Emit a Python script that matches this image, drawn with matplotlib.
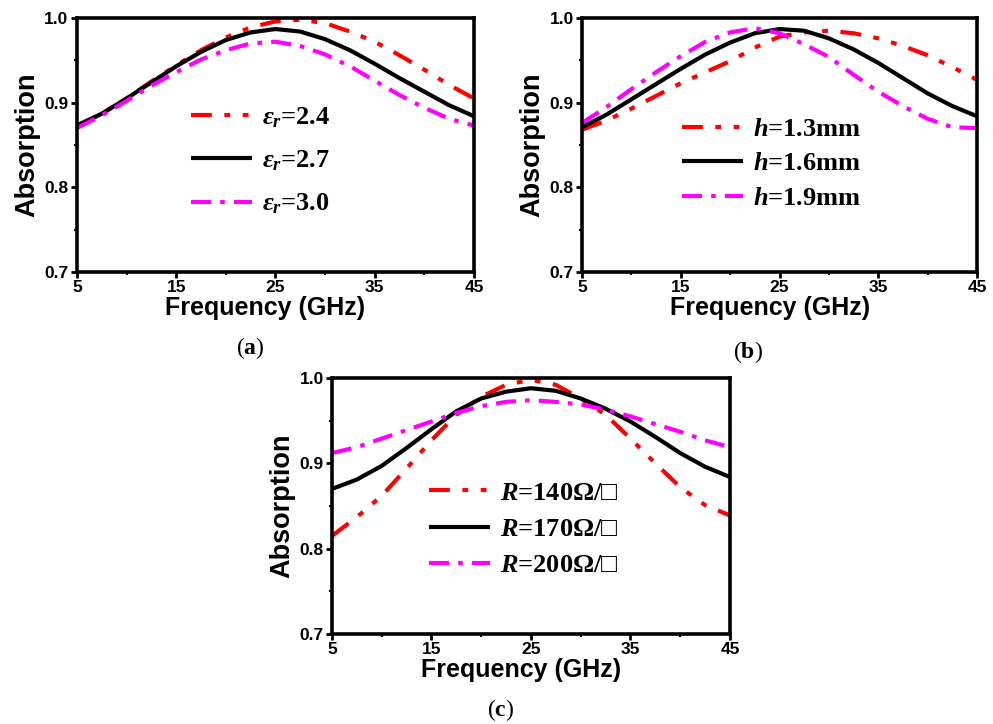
import matplotlib
matplotlib.use("Agg")
import matplotlib.pyplot as plt
from matplotlib.ticker import MultipleLocator

plt.rcParams["mathtext.fontset"] = "custom"
plt.rcParams["mathtext.rm"] = "Liberation Serif:bold"
plt.rcParams["mathtext.it"] = "Liberation Serif:italic:bold"
plt.rcParams["mathtext.bf"] = "Liberation Serif:bold"

freq = [5, 7.5, 10, 12.5, 15, 17.5, 20, 22.5, 25, 27.5, 30, 32.5, 35, 37.5, 40, 42.5, 45]

# (a) permittivity
eps_24 = [0.873, 0.887, 0.905, 0.925, 0.944, 0.962, 0.977, 0.989, 0.996, 0.998, 0.994,
          0.984, 0.972, 0.956, 0.939, 0.921, 0.905]
eps_27 = [0.873, 0.887, 0.905, 0.924, 0.943, 0.960, 0.974, 0.983, 0.987, 0.984, 0.975,
          0.962, 0.946, 0.929, 0.913, 0.897, 0.884]
eps_30 = [0.870, 0.885, 0.902, 0.920, 0.936, 0.951, 0.962, 0.970, 0.972, 0.967, 0.957,
          0.943, 0.926, 0.909, 0.894, 0.881, 0.873]

# (b) thickness
h_13 = [0.868, 0.879, 0.893, 0.908, 0.923, 0.936, 0.949, 0.965, 0.978, 0.983, 0.985,
        0.982, 0.976, 0.967, 0.956, 0.942, 0.927]
h_16 = [0.871, 0.886, 0.904, 0.922, 0.940, 0.957, 0.971, 0.982, 0.987, 0.985, 0.976,
        0.963, 0.947, 0.929, 0.911, 0.896, 0.884]
h_19 = [0.876, 0.895, 0.916, 0.936, 0.955, 0.972, 0.983, 0.988, 0.982, 0.969, 0.954,
        0.933, 0.913, 0.896, 0.881, 0.871, 0.870]

# (c) sheet resistance
r_140 = [0.815, 0.837, 0.862, 0.894, 0.927, 0.957, 0.978, 0.992, 0.998, 0.992, 0.976,
         0.957, 0.929, 0.900, 0.872, 0.851, 0.839]
r_170 = [0.870, 0.881, 0.897, 0.918, 0.940, 0.961, 0.976, 0.984, 0.988, 0.985, 0.976,
         0.964, 0.949, 0.931, 0.912, 0.896, 0.884]
r_200 = [0.912, 0.919, 0.929, 0.939, 0.949, 0.959, 0.967, 0.972, 0.974, 0.972, 0.969,
         0.963, 0.955, 0.946, 0.937, 0.927, 0.919]

panels = [
    dict(rect=[0.0775, 0.6243, 0.3998, 0.3508],
         series=[eps_24, eps_27, eps_30],
         labels=[r"$\varepsilon_r$=2.4", r"$\varepsilon_r$=2.7", r"$\varepsilon_r$=3.0"],
         leg=(0.287, 0.437), spacing=0.7, caption=("a", 0.252, 0.519)),
    dict(rect=[0.5861, 0.6243, 0.3978, 0.3508],
         series=[h_13, h_16, h_19],
         labels=[r"$h$=1.3mm", r"$h$=1.6mm", r"$h$=1.9mm"],
         leg=(0.253, 0.427), spacing=0.42, caption=("b", 0.753, 0.514)),
    dict(rect=[0.3343, 0.1243, 0.4008, 0.3536],
         series=[r_140, r_170, r_200],
         labels=[r"$R$=140Ω/□", r"$R$=170Ω/□", r"$R$=200Ω/□"],
         leg=(0.244, 0.41), spacing=0.48, caption=("c", 0.504, 0.0193)),
]

colors = ["#ff0000", "black", "#ff00ff"]
dashes = [(5, 3, 1.4, 3, 1.4, 3), None, (4.8, 2.2, 1.1, 2.2)]

fig = plt.figure(figsize=(9.93, 7.24), dpi=100)
sans = dict(family="Liberation Sans", weight="bold")

for p in panels:
    ax = fig.add_axes(p["rect"])
    for vals, lab, c, d in zip(p["series"], p["labels"], colors, dashes):
        line, = ax.plot(freq, vals, color=c, lw=3, label=lab, solid_capstyle="butt")
        if d is not None:
            line.set_dashes(d)
            line.set_dash_capstyle("butt")
    ax.set_xlim(5, 45)
    ax.set_ylim(0.7, 1.0)
    ax.set_xticks([5, 15, 25, 35, 45])
    ax.set_yticks([0.7, 0.8, 0.9, 1.0])
    ax.xaxis.set_minor_locator(MultipleLocator(5))
    ax.yaxis.set_minor_locator(MultipleLocator(0.05))
    ax.tick_params(which="major", direction="out", length=4, width=2, pad=2)
    ax.tick_params(which="minor", direction="out", length=2, width=1.5)
    for t in ax.get_xticklabels() + ax.get_yticklabels():
        t.set_fontproperties(dict(sans, size=12.5))
    for s in ax.spines.values():
        s.set_linewidth(2.6)
    ax.set_xlabel("Frequency (GHz)", fontsize=18, **sans)
    ax.xaxis.set_label_coords(0.475, -0.095)
    ax.set_ylabel("Absorption", fontsize=19.5, labelpad=3, **sans)
    ax.legend(loc="center left", bbox_to_anchor=p["leg"], frameon=False,
              prop=dict(family=["Liberation Serif", "DejaVu Serif"], weight="bold", size=19),
              handlelength=2.3, handletextpad=0.4, labelspacing=p["spacing"],
              borderpad=0, borderaxespad=0)
    letter, cx, cy = p["caption"]
    fig.text(cx, cy, "($\\mathbf{%s}$)" % letter, ha="center", va="center",
             family="Liberation Serif", fontsize=17)

fig.savefig("out.png", dpi=100)
